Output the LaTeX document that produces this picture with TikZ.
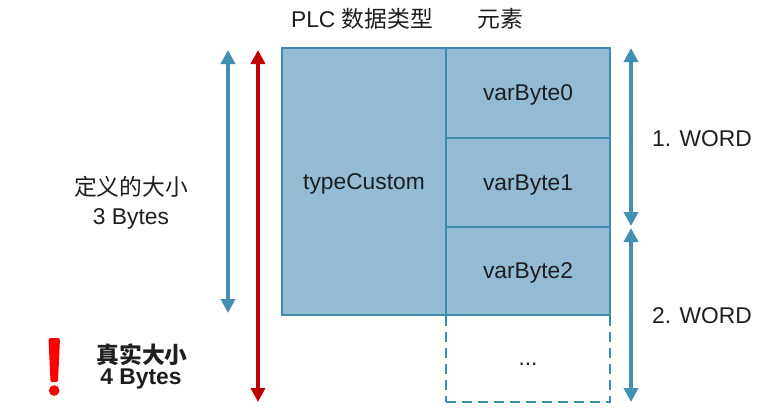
\documentclass[tikz,border=0pt]{standalone}
\usepackage{fontspec}
\setmainfont{Liberation Sans}
\newfontfamily\cjk{Noto Sans CJK SC}
\usetikzlibrary{arrows.meta}
\definecolor{cellfill}{HTML}{93BCD4}
\definecolor{cellline}{HTML}{3D8BAD}
\definecolor{arrblue}{HTML}{3F90B3}
\definecolor{arrred}{HTML}{C00000}
\definecolor{txt}{HTML}{1E1E1E}
\begin{document}
\begin{tikzpicture}[x=1pt,y=-1pt,
  every node/.style={font=\fontsize{22.8}{25}\selectfont, text=txt},
  cell/.style={draw=cellline, line width=1.8pt, fill=cellfill, minimum width=164pt, inner sep=0pt, text depth=0pt},
  emptycell/.style={draw=cellline, line width=1.8pt, dash pattern=on 10pt off 6pt, minimum width=164pt, inner sep=0pt, text depth=0pt},
  dimarrow/.style={line width=4.2pt, {Triangle[width=14pt,length=14pt]}-{Triangle[width=14pt,length=14pt]}},
  lbl/.style={inner sep=0pt, align=center}]
\useasboundingbox (0,0) rectangle (767,416);
% headers
\node[lbl] (hplc) at (362,19) {PLC {\cjk 数据类型}};
\node[lbl] (hel) at (500,19) {{\cjk 元素}};
% cells
\node[cell, minimum height=267pt] (tc) at (364,181.5) {typeCustom};
\node[cell, minimum height=90pt] (b0) at (528,93) {varByte0};
\node[cell, minimum height=89pt] (b1) at (528,182.5) {varByte1};
\node[cell, minimum height=88pt] (b2) at (528,271) {varByte2};
\node[emptycell, minimum height=87pt] (dots) at (528,358.5) {\raisebox{-7pt}{...}};
% arrow endpoints
\coordinate (lbT) at (228,50);
\coordinate (lbB) at (228,313);
\coordinate (rdT) at (258,50);
\coordinate (rdB) at (258,402);
\coordinate (w1T) at (631,48);
\coordinate (w1B) at (631,226);
\coordinate (w2T) at (631,228);
\coordinate (w2B) at (631,402);
\draw[dimarrow, arrblue] (lbT) -- (lbB);
\draw[dimarrow, arrred] (rdT) -- (rdB);
\draw[dimarrow, arrblue] (w1T) -- (w1B);
\draw[dimarrow, arrblue] (w2T) -- (w2B);
% labels
\node[lbl, anchor=west] (word1) at (652,139) {1. WORD};
\node[lbl, anchor=west] (word2) at (652,316) {2. WORD};
\node[lbl] (def1) at (131,187) {{\cjk 定义的大小}};
\node[lbl] (def2) at (131,219) {3 Bytes};
\node[lbl] (real1) at (142,355) {{\cjk\bfseries 真实大小}};
\node[lbl] (real2) at (141,379) {\bfseries 4 Bytes};
% exclamation mark
\fill[red, rounded corners=2pt] (48.5,338) -- (60,338) -- (58,382) -- (50.5,382) -- cycle;
\fill[red] (54.2,390.5) circle (5.3pt);
\end{tikzpicture}
\end{document}
